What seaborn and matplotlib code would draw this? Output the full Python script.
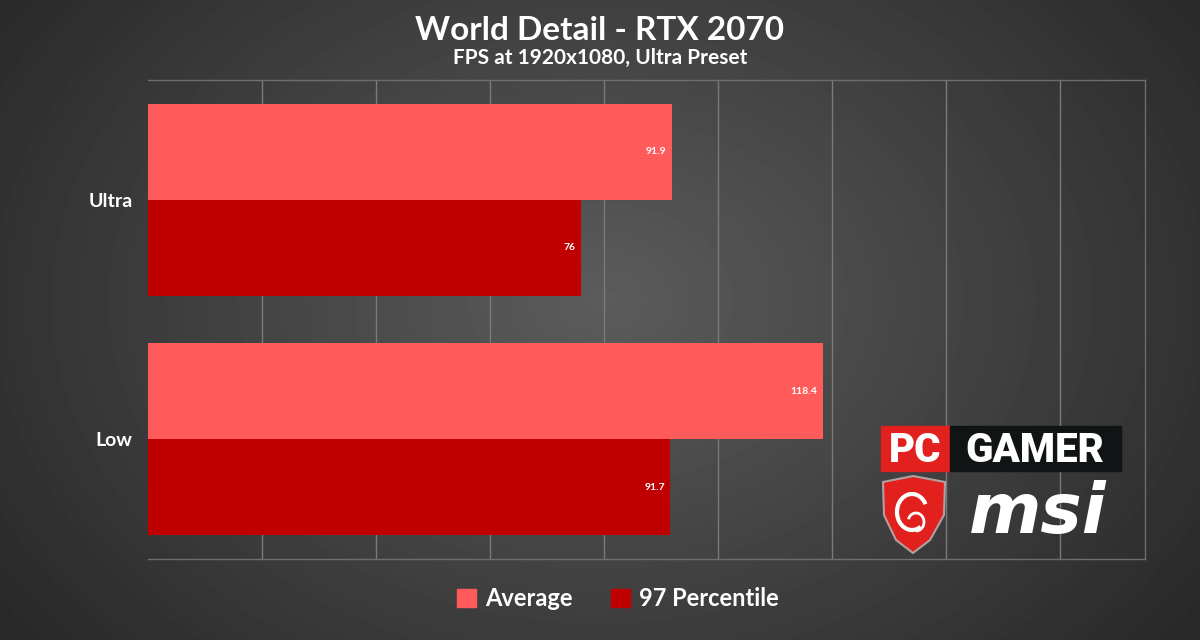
import matplotlib
matplotlib.use('Agg')

import numpy as np
import pandas as pd
import matplotlib.pyplot as plt
import seaborn as sns
from matplotlib.patches import Rectangle, Polygon, Arc

sns.set_style("white")
plt.rcParams['font.family'] = ['Lato', 'DejaVu Sans']

# 数据
presets = ["Ultra", "Low"]
average = [91.9, 118.4]
percentile_97 = [76, 91.7]
series = ["Average", "97 Percentile"]
colors = ["#FF5B5B", "#C00000"]

df = pd.DataFrame({
    "Preset": presets * 2,
    "FPS": average + percentile_97,
    "Series": [series[0]] * 2 + [series[1]] * 2,
})

fig = plt.figure(figsize=(12, 6.4), dpi=100)

# 背景径向渐变
bg = fig.add_axes([0, 0, 1, 1], zorder=0)
yy, xx = np.mgrid[0:640, 0:1200]
r = np.sqrt(((xx - 600) / 700) ** 2 + ((yy - 300) / 520) ** 2)
shade = np.clip(0.36 - 0.19 * r, 0.15, 0.36)
bg.imshow(shade, cmap="gray", vmin=0, vmax=1, aspect="auto", extent=[0, 1200, 640, 0])
bg.set_axis_off()

# 主图
ax = fig.add_axes([148 / 1200, 1 - 559 / 640, (1145 - 148) / 1200, (559 - 80) / 640], zorder=1)
ax.set_facecolor("none")
sns.barplot(data=df, y="Preset", x="FPS", hue="Series", palette=colors,
            orient="h", width=0.8, saturation=1, linewidth=0, ax=ax, legend=False, zorder=3)
ax.set_xlim(0, 175)
ax.set_ylim(1.5, -0.5)
ax.set_xticks(np.arange(20, 175, 20))
ax.set_xticklabels([])
ax.tick_params(axis="x", length=0)
ax.tick_params(axis="y", length=0, pad=11, labelsize=14, labelcolor="white")
for lab in ax.get_yticklabels():
    lab.set_fontweight("bold")
ax.grid(axis="x", color="#7a7a7a", linewidth=1, zorder=0)
ax.set_xlabel("")
ax.set_ylabel("")
for side in ["top", "right", "bottom"]:
    ax.spines[side].set_color("#6e6e6e")
    ax.spines[side].set_linewidth(1)
ax.spines["left"].set_visible(False)

# 数值标签
for cont in ax.containers:
    for bar, v in zip(cont, cont.datavalues):
        ax.annotate(f"{v:g}", xy=(bar.get_x() + bar.get_width(), bar.get_y() + bar.get_height() / 2),
                    xytext=(-4, 0), textcoords="offset points", ha="right", va="center",
                    color="white", fontsize=7.5, fontweight="bold", zorder=4)

# 标题
fig.text(0.5, 1 - 30 / 640, "World Detail - RTX 2070", ha="center", va="center",
         fontsize=24, fontweight="bold", color="white")
fig.text(0.5, 1 - 58 / 640, "FPS at 1920x1080, Ultra Preset", ha="center", va="center",
         fontsize=15, fontweight="bold", color="white")

# 图例
handles = [Rectangle((0, 0), 1, 1, color=c) for c in colors]
fig.legend(handles, series, loc="center", bbox_to_anchor=(0.515, 1 - 599 / 640), ncol=2,
           frameon=False, labelcolor="white", handlelength=0.8, handleheight=0.8,
           handletextpad=0.4, columnspacing=1.6, prop={"weight": "bold", "size": 17})

# 标志
lg = fig.add_axes([0, 0, 1, 1], zorder=2)
lg.set_xlim(0, 1200)
lg.set_ylim(640, 0)
lg.set_axis_off()
lg.add_patch(Rectangle((881, 426), 69, 45, color="#E2201E"))
lg.add_patch(Rectangle((950, 426), 171, 45, color="#111414"))
lg.text(915, 450, "PC", ha="center", va="center", color="white", fontsize=29,
        fontweight="heavy", family=["Roboto", "DejaVu Sans"])
lg.text(1035, 450, "GAMER", ha="center", va="center", color="white", fontsize=29,
        fontweight="heavy", family=["Roboto", "DejaVu Sans"])
shield = [(883, 482), (913, 476), (945, 482), (944, 515), (930, 540), (913, 553),
          (896, 540), (884, 515)]
lg.add_patch(Polygon(shield, closed=True, facecolor="#E2201E", edgecolor="#b0a0a0", linewidth=1.5))
lg.add_patch(Arc((912, 512), 30, 36, theta1=60, theta2=330, color="white", linewidth=3))
lg.add_patch(Arc((916, 522), 16, 18, theta1=200, theta2=90, color="white", linewidth=2))
lg.text(1038, 513, "msi", ha="center", va="center", color="white", fontsize=50,
        fontweight="heavy", fontstyle="italic", family=["DejaVu Sans"])

fig.savefig("out.png", dpi=100)
plt.close(fig)
